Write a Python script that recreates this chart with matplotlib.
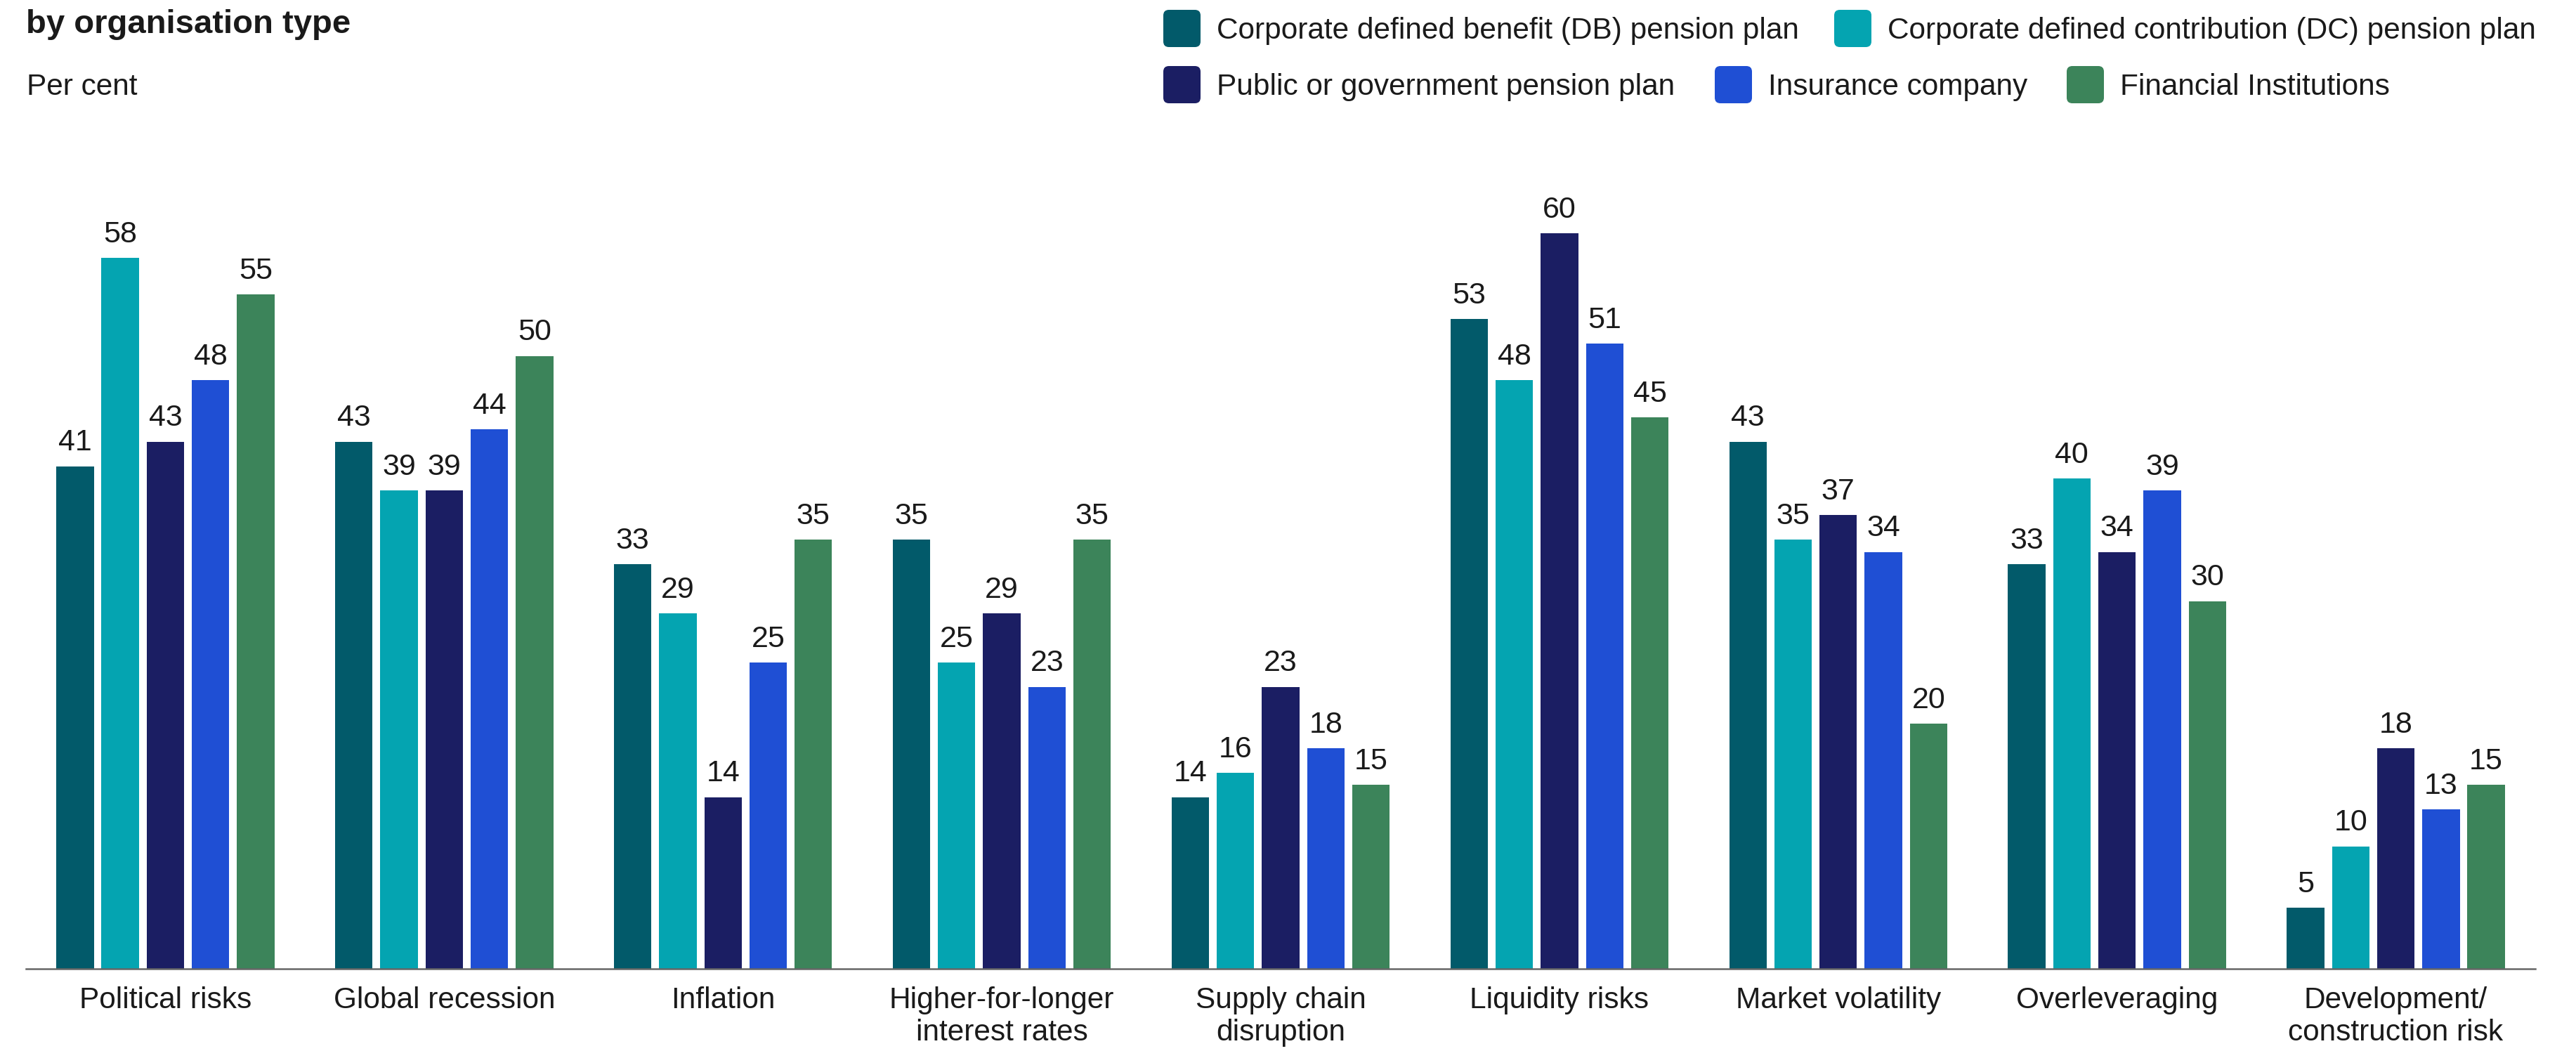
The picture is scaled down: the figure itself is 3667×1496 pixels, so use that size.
import numpy as np
import matplotlib
matplotlib.use('Agg')
import matplotlib.pyplot as plt
from matplotlib.patches import FancyBboxPatch

plt.rcParams['font.family'] = ['Liberation Sans', 'DejaVu Sans']

# data
categories = ['Political risks', 'Global recession', 'Inflation',
              'Higher-for-longer\ninterest rates', 'Supply chain\ndisruption',
              'Liquidity risks', 'Market volatility', 'Overleveraging',
              'Development/\nconstruction risk']
series_names = ['Corporate defined benefit (DB) pension plan',
                'Corporate defined contribution (DC) pension plan',
                'Public or government pension plan',
                'Insurance company',
                'Financial Institutions']
db = [41, 43, 33, 35, 14, 53, 43, 33, 5]
dc = [58, 39, 29, 25, 16, 48, 35, 40, 10]
public = [43, 39, 14, 29, 23, 60, 37, 34, 18]
insurance = [48, 44, 25, 23, 18, 51, 34, 39, 13]
financial = [55, 50, 35, 35, 15, 45, 20, 30, 15]
series = [db, dc, public, insurance, financial]

colors = ['#025a6a', '#04a4b1', '#1b1e63', '#1f4fd4', '#3c845a']
text_color = '#1a1a1a'

# 画布 (像素坐标)
W, H = 3667, 1496
fig = plt.figure(figsize=(W / 100, H / 100), dpi=100)

px_per_unit = 17.45
ymax = 65
ax = fig.add_axes([37 / W, 117 / H, 3572 / W, ymax * px_per_unit / H])

x = np.arange(len(categories))
pitch = 0.162
width = 0.1343

for i, (vals, c) in enumerate(zip(series, colors)):
    xs = x + (i - 2) * pitch
    ax.bar(xs, vals, width, color=c, zorder=2)
    for xi, v in zip(xs, vals):
        ax.annotate(f'{v}', (xi, v), xytext=(0, 16), textcoords='offset points',
                    ha='center', va='baseline', fontsize=31, color=text_color)

ax.set_xlim(-0.5, 8.5)
ax.set_ylim(0, ymax)
ax.set_xticks(x, categories)
ax.tick_params(axis='x', length=0, pad=18, labelsize=30.5, labelcolor=text_color)
ax.set_yticks([])
for s in ['top', 'left', 'right']:
    ax.spines[s].set_visible(False)
ax.spines['bottom'].set_color('#666666')
ax.spines['bottom'].set_linewidth(1.8)
ax.spines['bottom'].set_zorder(3)

# 标题 + 图例 (在像素坐标的覆盖层上画)
ov = fig.add_axes([0, 0, 1, 1])
ov.set_xlim(0, W)
ov.set_ylim(H, 0)
ov.axis('off')

ov.text(37, 47, 'by organisation type', fontsize=34, fontweight='bold',
        color=text_color, va='baseline', ha='left')
ov.text(38, 135, 'Per cent', fontsize=30.5, color=text_color,
        va='baseline', ha='left')

legend_pos = [(1656, 14), (2611, 14), (1656, 94), (2441, 94), (2942, 94)]
sw = 53
r = 8
for (lx, ty), name, c in zip(legend_pos, series_names, colors):
    box = FancyBboxPatch((lx + r, ty + r), sw - 2 * r, sw - 2 * r,
                         boxstyle=f'round,pad={r},rounding_size={r}',
                         facecolor=c, edgecolor='none')
    ov.add_patch(box)
    ov.text(lx + 76, ty + 41, name, fontsize=30.5, color=text_color,
            va='baseline', ha='left')

fig.savefig('out.png', dpi=100)
